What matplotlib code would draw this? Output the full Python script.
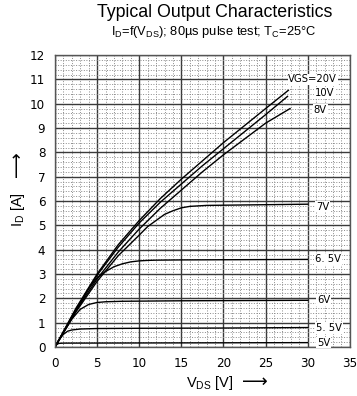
import numpy as np
import matplotlib
matplotlib.use("Agg")
import matplotlib.pyplot as plt

# === 데이터 ===
v_20 = [0, 2.5, 5, 7.5, 10, 12.5, 15, 17.5, 20, 22.5, 25, 27.7]
i_20 = [0, 1.6, 3.0, 4.2, 5.2, 6.1, 6.9, 7.65, 8.4, 9.1, 9.8, 10.55]
v_10 = [0, 2.5, 5, 7.5, 10, 12.5, 15, 17.5, 20, 22.5, 25, 27.6]
i_10 = [0, 1.55, 2.95, 4.1, 5.1, 5.95, 6.7, 7.45, 8.15, 8.85, 9.55, 10.3]
v_8 = [0, 2.5, 5, 7.5, 10, 12.5, 15, 17.5, 20, 22.5, 25, 27.9]
i_8 = [0, 1.5, 2.8, 3.9, 4.85, 5.7, 6.45, 7.2, 7.9, 8.55, 9.2, 9.8]
v_7 = [0, 2.5, 5, 7.5, 10, 11, 12, 13, 14, 15, 16, 18, 30]
i_7 = [0, 1.45, 2.7, 3.75, 4.6, 4.95, 5.2, 5.45, 5.6, 5.72, 5.78, 5.82, 5.87]
v_65 = [0, 2, 4, 5, 6, 7, 8, 9, 10, 11, 12, 15, 30]
i_65 = [0, 1.2, 2.4, 2.85, 3.1, 3.3, 3.42, 3.5, 3.54, 3.56, 3.57, 3.58, 3.6]
v_6 = [0, 1, 2, 3, 4, 5, 6, 8, 15, 30]
i_6 = [0, 0.6, 1.15, 1.55, 1.75, 1.83, 1.86, 1.88, 1.9, 1.92]
v_55 = [0, 0.5, 1, 1.5, 2, 3, 5, 10, 20, 30]
i_55 = [0, 0.3, 0.52, 0.65, 0.7, 0.74, 0.76, 0.77, 0.78, 0.8]
v_5 = [0, 0.25, 0.5, 1, 30]
i_5 = [0, 0.12, 0.15, 0.16, 0.18]

curves = [(v_20, i_20), (v_10, i_10), (v_8, i_8), (v_7, i_7),
          (v_65, i_65), (v_6, i_6), (v_55, i_55), (v_5, i_5)]

curve_labels = ["VGS=20V", "10V", "8V", "7V", "6. 5V", "6V", "5. 5V", "5V"]
label_x = [30.6, 32.0, 31.5, 31.8, 32.4, 31.9, 32.5, 31.9]
label_y = [11.0, 10.45, 9.75, 5.77, 3.6, 1.93, 0.78, 0.18]

x_ticks = [0, 5, 10, 15, 20, 25, 30, 35]
y_ticks = list(range(0, 13))

plt.rcParams['mathtext.default'] = 'regular'
sans = ['Liberation Sans', 'DejaVu Sans']

fig = plt.figure(figsize=(3.57, 3.96), dpi=100)
ax = fig.add_axes([0.154, 0.1237, 0.826, 0.7373])

# === 격자 ===
ax.set_xticks(np.arange(0, 36, 1), minor=True)
ax.set_yticks(np.arange(0, 12.01, 0.2), minor=True)
ax.grid(which='minor', color='#8a8a8a', linestyle=':', linewidth=0.7)
ax.grid(which='major', color='#3a3a3a', linestyle='-', linewidth=1.0)
ax.set_axisbelow(True)

for v, i in curves:
    ax.plot(v, i, color='black', linewidth=1.0)

for txt, lx, ly in zip(curve_labels, label_x, label_y):
    ax.text(lx, ly, txt, ha='center', va='center', fontsize=8,
            family='DejaVu Sans', fontstretch='condensed',
            bbox=dict(facecolor='white', edgecolor='none', pad=0.6))

ax.set_xlim(0, 35)
ax.set_ylim(0, 12)
ax.set_xticks(x_ticks)
ax.set_yticks(y_ticks)
ax.set_xticklabels([str(t) for t in x_ticks], family='DejaVu Sans',
                   fontstretch='condensed', fontsize=9.5)
ax.set_yticklabels([str(t) for t in y_ticks], family='DejaVu Sans',
                   fontstretch='condensed', fontsize=9.5)
ax.tick_params(which='both', length=0, pad=7)
for s in ax.spines.values():
    s.set_color('#555555')
    s.set_linewidth(1.0)

fig.text(0.60, 0.968, "Typical Output Characteristics", ha='center', va='center',
         fontsize=12.8, family=sans)
fig.text(0.60, 0.918, r"I$_{D}$=f(V$_{DS}$); 80µs pulse test; T$_{C}$=25°C",
         ha='center', va='center', fontsize=9.3, family=sans)

# 축 제목 + 화살표
fig.text(0.588, 0.033, r"V$_{DS}$ [V]", ha='center', va='center',
         fontsize=10.5, family=sans)
fig.text(0.714, 0.036, "⟶", ha='center', va='center', fontsize=13,
         family='DejaVu Sans')
fig.text(0.05, 0.47, r"I$_{D}$ [A]", ha='center', va='center',
         rotation=90, fontsize=10.5, family=sans)
fig.text(0.047, 0.586, "⟶", ha='center', va='center', rotation=90,
         fontsize=13, family='DejaVu Sans')

fig.savefig("out.png", dpi=100)
